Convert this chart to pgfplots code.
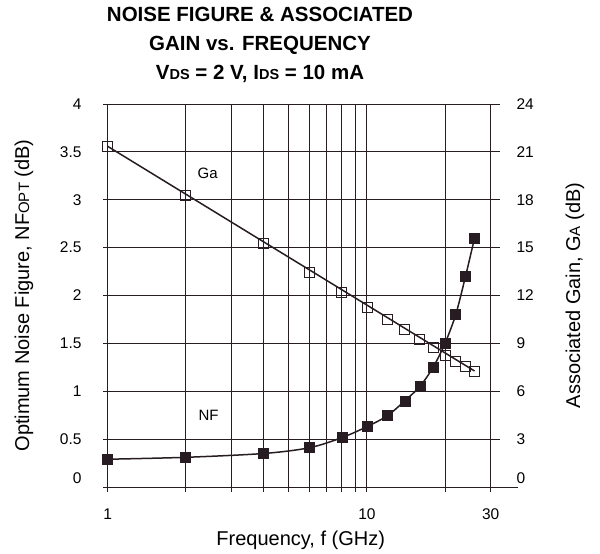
\documentclass[border=0pt]{standalone}
\usepackage{pgfplots}
\pgfplotsset{compat=1.18}
\usepackage{fontspec}
\setmainfont{Liberation Sans}
\definecolor{ink}{RGB}{38,28,34}
\pgfplotstableread{
f nf
1 0.29
2 0.31
4 0.35
6 0.41
8 0.515
10 0.63
12 0.745
14 0.90
16 1.05
18 1.25
20 1.50
22 1.80
24 2.20
26 2.60
}\nfdata
\pgfplotstableread{
f ga
1 21.35
2 18.3
4 15.27
6 13.47
8 12.18
10 11.28
12 10.5
14 9.88
16 9.28
18 8.73
20 8.27
22 7.9
24 7.58
26 7.27
}\gadata
\pgfplotstableread{
f ga
1 21.35
26 7.27
}\galine
\begin{document}
\begin{tikzpicture}[x=1pt,y=1pt]
\useasboundingbox (0,0) rectangle (600,554);
\node[anchor=base,font=\fontsize{20.5}{24}\selectfont\bfseries] at (260,532.3) {NOISE FIGURE \& ASSOCIATED};
\node[anchor=base,font=\fontsize{20.5}{24}\selectfont\bfseries] at (260,503.2) {GAIN vs. FREQUENCY};
\node[anchor=base,font=\fontsize{20.5}{24}\selectfont\bfseries] at (260,474.3) {V{\fontsize{14.5}{16}\selectfont DS} = 2 V, I{\fontsize{14.5}{16}\selectfont DS} = 10 mA};
\begin{axis}[
  at={(103pt,67pt)}, anchor=south west, scale only axis,
  width=397pt, height=383pt,
  xmode=log, xmin=0.96, xmax=32.6, ymin=0, ymax=4,
  clip=false,
  axis line style={draw=none},
  xtick={1,2,3,4,5,6,7,8,9,10,20,30},
  xticklabels={1,{},{},{},{},{},{},{},{},10,{},30},
  ytick={0,0.5,1,1.5,2,2.5,3,3.5,4},
  yticklabels={\raisebox{18pt}{0},0.5,1,1.5,2,2.5,3,3.5,4},
  xtick pos=bottom, ytick pos=left,
  tick align=outside, major tick length=5pt,
  xtick style={ink, line width=0.9pt},
  ytick style={draw=none},
  grid=major,
  major grid style={ink, line width=0.9pt},
  ticklabel style={font=\fontsize{15.5}{16}\selectfont, text=black},
  yticklabel style={xshift=-13pt},
  xticklabel style={yshift=-13pt},
  /pgf/number format/assume math mode=true,
  xlabel={Frequency, f (GHz)},
  ylabel={Optimum Noise Figure, NF{\fontsize{15}{16}\selectfont OPT} (dB)},
  every axis x label/.style={at={(rel axis cs:0.498,-0.1384)}, anchor=center, font=\fontsize{20}{22}\selectfont},
  every axis y label/.style={at={(rel axis cs:-0.199,0.5)}, rotate=90, anchor=center, font=\fontsize{20}{22}\selectfont},
]
\draw[ink, line width=0.9pt] (axis cs:0.96,0) -- (axis cs:38.1,0);
\addplot[ink, line width=1.5pt, smooth, mark=square*, mark size=5pt,
  mark options={solid, fill=ink, draw=ink, line width=0.5pt}] table[x=f,y=nf] {\nfdata};
\node[font=\fontsize{15}{16}\selectfont] at (axis cs:2.43,3.28) {Ga};
\node[font=\fontsize{15}{16}\selectfont] at (axis cs:2.45,0.75) {NF};
\end{axis}
\begin{axis}[
  at={(103pt,67pt)}, anchor=south west, scale only axis,
  width=397pt, height=383pt,
  xmode=log, xmin=0.96, xmax=32.6, ymin=0, ymax=24,
  clip=false,
  axis line style={draw=none},
  xtick=\empty,
  ytick={0,3,6,9,12,15,18,21,24},
  yticklabels={\raisebox{18pt}{0},3,6,9,12,15,18,21,24},
  ytick pos=right,
  ytick style={draw=none},
  ticklabel style={font=\fontsize{15.5}{16}\selectfont, text=black},
  yticklabel style={xshift=13pt},
  /pgf/number format/assume math mode=true,
  ylabel={Associated Gain, G{\fontsize{15}{16}\selectfont A} (dB)},
  every axis y label/.style={at={(rel axis cs:1.189,0.5)}, rotate=90, anchor=center, font=\fontsize{20}{22}\selectfont},
]
\addplot[ink, line width=1.5pt] table[x=f,y=ga] {\galine};
\addplot[only marks, mark=square, mark size=5pt,
  mark options={solid, draw=ink, line width=0.8pt}] table[x=f,y=ga] {\gadata};
\end{axis}
\end{tikzpicture}
\end{document}
